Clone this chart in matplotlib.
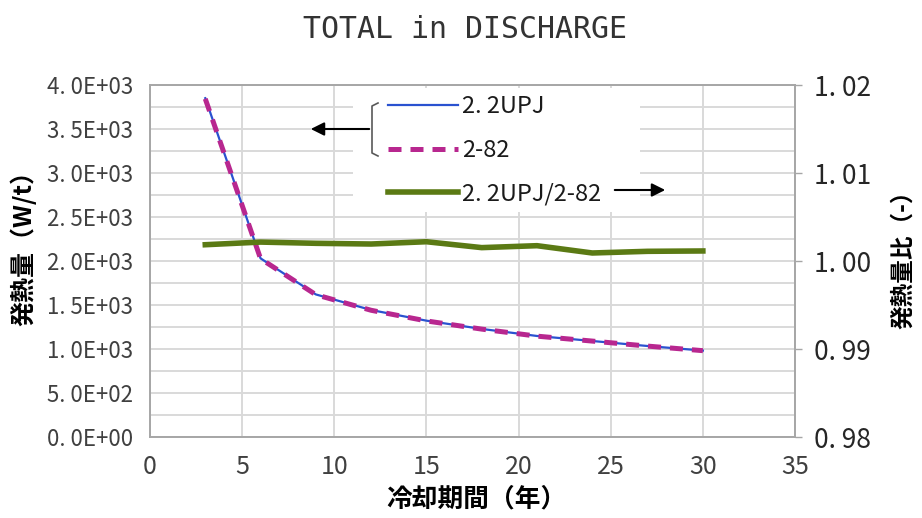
import matplotlib
matplotlib.use("Agg")
import matplotlib.pyplot as plt
from matplotlib.patches import Rectangle
from matplotlib.lines import Line2D
from matplotlib.ticker import FuncFormatter, MultipleLocator

plt.rcParams['font.family'] = ['Noto Sans CJK JP', 'DejaVu Sans']

# data
years = [3, 6, 9, 12, 15, 18, 21, 24, 27, 30]
heat_upj = [3850, 2030, 1620, 1443, 1322, 1228, 1148, 1091, 1034, 982]
heat_282 = [3843, 2026, 1617, 1440, 1319, 1226, 1146, 1090, 1033, 981]
ratio = [1.00185, 1.00215, 1.00201, 1.00193, 1.00219, 1.00152, 1.00174, 1.00091, 1.00110, 1.00114]

W, H = 922, 518
fig = plt.figure(figsize=(W / 100, H / 100), dpi=100)

def fx(px):
  return px / W

def fy(py):
  return 1 - py / H

ax = fig.add_axes([fx(150), fy(437), fx(795) - fx(150), fy(85) - fy(437)])
ax2 = ax.twinx()

grid_c = '#d9d9d9'
spine_c = '#a6a6a6'
tick_c = '#404040'

ax.set_axisbelow(True)
ax.set_xlim(0, 35)
ax.set_ylim(0, 4000)
ax.xaxis.set_major_locator(MultipleLocator(5))
ax.yaxis.set_major_locator(MultipleLocator(500))
ax.yaxis.set_minor_locator(MultipleLocator(250))
ax.grid(True, which='both', color=grid_c, linewidth=1.4)
ax.yaxis.set_major_formatter(FuncFormatter(lambda v, p: f"{v:.1E}".replace('.', '. ')))
ax.tick_params(axis='both', which='both', length=0, labelcolor=tick_c)
ax.tick_params(axis='y', labelsize=16, pad=12)
ax.tick_params(axis='x', labelsize=18, pad=12)

ax2.set_ylim(0.98, 1.02)
ax2.yaxis.set_major_locator(MultipleLocator(0.01))
ax2.yaxis.set_major_formatter(FuncFormatter(lambda v, p: f"{v:.2f}".replace('.', '. ')))
ax2.tick_params(axis='y', length=5, width=1, color=spine_c, labelsize=19, labelcolor='#262626', pad=9)

for a in (ax, ax2):
  for s in a.spines.values():
    s.set_color(spine_c)
    s.set_linewidth(1.2)

# legend background box over the gridlines
ax.add_patch(Rectangle((fx(353), fy(212)), fx(640) - fx(353), fy(88) - fy(212),
                       transform=fig.transFigure, facecolor='white', edgecolor='none', zorder=1))

c_blue = '#2a52d0'
c_mag = '#b8278f'
c_green = '#5b7a14'

ax.plot(years, heat_upj, color=c_blue, linewidth=1.6, zorder=3)
ax.plot(years, heat_282, color=c_mag, linewidth=3.6, dashes=(2.6, 1.8), zorder=4)
ax2.plot(years, ratio, color=c_green, linewidth=4, zorder=3)

handles = [
  Line2D([], [], color=c_blue, linewidth=1.6),
  Line2D([], [], color=c_mag, linewidth=3.6, dashes=(2.6, 1.8)),
  Line2D([], [], color=c_green, linewidth=4),
]
labels = ['2. 2UPJ', '2-82', '2. 2UPJ/2-82']
leg = ax2.legend(handles, labels, loc='upper left', bbox_to_anchor=(fx(388), fy(95)),
                 bbox_transform=fig.transFigure, frameon=False, fontsize=17,
                 handlelength=2.95, handletextpad=0.2, labelspacing=0.88, borderpad=0,
                 borderaxespad=0)
for t in leg.get_texts():
  t.set_color('#1a1a1a')

# bracket and arrows next to the legend
bx = [fx(378), fx(372), fx(372), fx(378)]
by = [fy(103), fy(106), fy(153), fy(156)]
fig.add_artist(Line2D(bx, by, color='#595959', linewidth=1.2))
ax.annotate('', xy=(fx(308), fy(129)), xytext=(fx(372), fy(129)),
            xycoords='figure fraction', textcoords='figure fraction',
            arrowprops=dict(arrowstyle='-|>', color='black', lw=1.5, mutation_scale=20))
ax.annotate('', xy=(fx(668), fy(190)), xytext=(fx(612), fy(190)),
            xycoords='figure fraction', textcoords='figure fraction',
            arrowprops=dict(arrowstyle='-|>', color='black', lw=1.5, mutation_scale=20),
            zorder=5)

fig.text(fx(465), fy(30), 'TOTAL in DISCHARGE', ha='center', va='center',
         fontsize=21.5, color='#333333', family=['DejaVu Sans Mono'])
fig.text(fx(23), fy(242), '発熱量（W/t）', rotation=90, ha='center', va='center',
         fontsize=18, fontweight='bold', color='black')
fig.text(fx(903), fy(254), '発熱量比（-）', rotation=90, ha='center', va='center',
         fontsize=17, fontweight='bold', color='black')
fig.text(fx(476), fy(499), '冷却期間（年）', ha='center', va='center',
         fontsize=18.5, fontweight='bold', color='black')

fig.savefig('out.png', dpi=100)
